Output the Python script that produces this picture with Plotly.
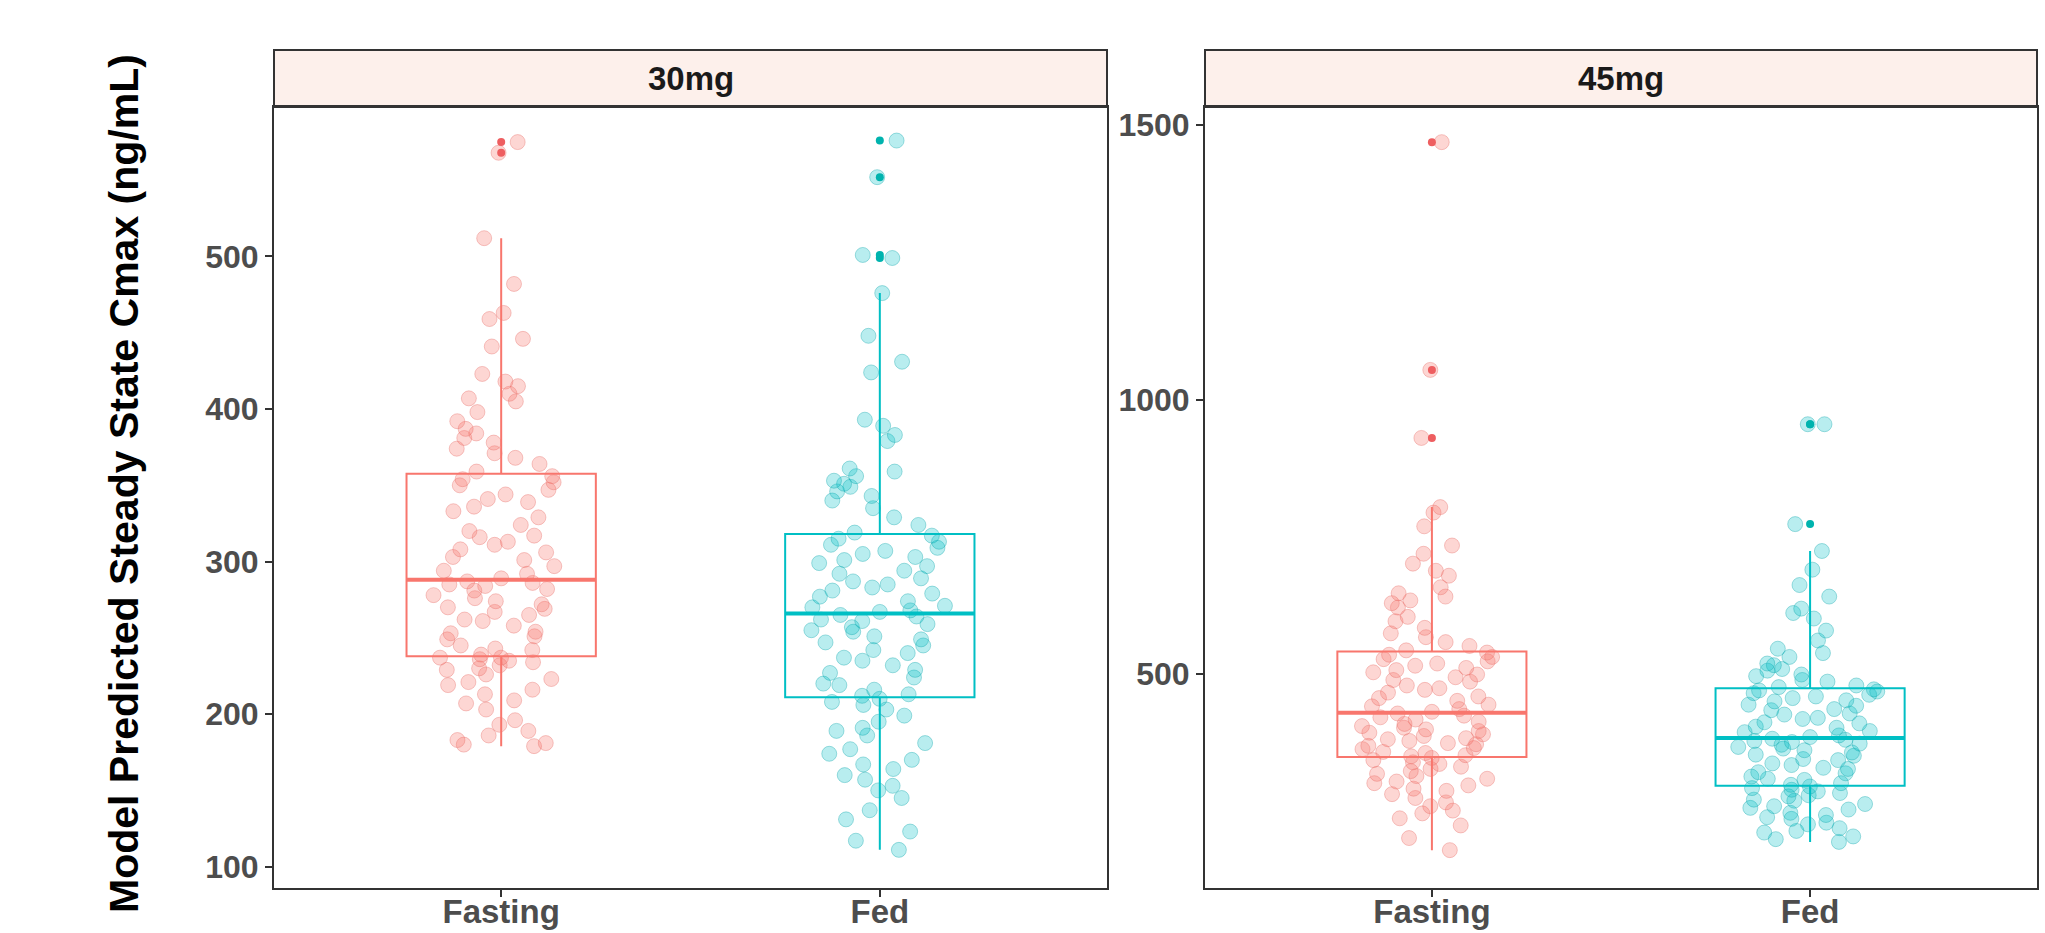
import numpy as np
import plotly.graph_objects as go

# ---------------- data ----------------
doses = ["30mg", "45mg"]
conditions = ["Fasting", "Fed"]

cmax_30_fasting = [179, 180, 181, 183, 186, 189, 193, 196, 203, 207, 209, 213, 216, 219, 221, 223, 226, 229, 230, 232,
                   234, 235, 236, 237, 237, 239, 242, 243, 245, 249, 251, 253, 254, 258, 261, 262, 265, 267, 269, 270,
                   272, 274, 276, 278, 281, 282, 284, 285, 286, 287, 289, 292, 294, 297, 301, 303, 306, 308, 311, 313,
                   316, 317, 320, 324, 329, 333, 336, 339, 341, 344, 347, 350, 352, 354, 356, 359, 364, 368, 371, 374,
                   378, 381, 384, 387, 392, 398, 405, 407, 410, 415, 418, 423, 441, 446, 459, 463, 482, 512, 568, 575]

cmax_30_fed = [111, 117, 123, 131, 137, 145, 150, 153, 157, 160, 164, 167, 170, 174, 177, 181, 186, 189, 191, 195,
               199, 203, 206, 208, 210, 212, 213, 216, 219, 220, 224, 227, 229, 232, 235, 237, 240, 242, 245, 247,
               249, 251, 254, 255, 257, 259, 261, 262, 264, 265, 267, 268, 270, 271, 274, 277, 279, 281, 283, 285,
               287, 289, 292, 294, 297, 299, 301, 303, 305, 307, 309, 311, 313, 315, 317, 319, 324, 329, 335, 340,
               343, 346, 349, 351, 353, 356, 359, 361, 379, 383, 389, 393, 424, 431, 448, 476, 499, 501, 552, 576]

cmax_45_fasting = [179, 201, 224, 237, 246, 251, 259, 266, 274, 281, 287, 291, 297, 301, 304, 309, 314, 318, 323, 327,
                   331, 336, 339, 343, 347, 350, 352, 356, 358, 363, 365, 369, 372, 374, 378, 381, 383, 387, 390, 393,
                   396, 399, 402, 405, 409, 413, 417, 421, 424, 428, 431, 436, 441, 444, 451, 456, 459, 466, 471, 474,
                   479, 486, 489, 494, 499, 503, 507, 511, 515, 519, 523, 527, 531, 535, 539, 543, 551, 558, 567, 574,
                   584, 596, 604, 621, 629, 634, 641, 647, 658, 679, 688, 701, 719, 734, 769, 794, 804, 930, 1054, 1469]

cmax_45_fed = [194, 199, 204, 211, 214, 219, 226, 229, 236, 239, 243, 247, 253, 256, 259, 263, 269, 271, 277, 279,
               283, 286, 289, 292, 295, 298, 301, 307, 309, 313, 319, 321, 327, 329, 334, 337, 343, 345, 351, 353,
               357, 361, 364, 367, 371, 373, 376, 378, 380, 382, 385, 388, 394, 396, 402, 404, 410, 412, 418, 420,
               426, 428, 434, 436, 442, 444, 450, 452, 456, 459, 462, 465, 468, 470, 472, 476, 479, 486, 489, 496,
               499, 506, 509, 516, 519, 531, 538, 546, 561, 579, 601, 611, 619, 641, 662, 690, 724, 773, 955, 955]

y_ticks_30 = [100, 200, 300, 400, 500]
y_ticks_45 = [500, 1000, 1500]
y_title = "Model Predicted Steady State Cmax (ng/mL)"

# ---------------- styling ----------------
FONT = "Liberation Sans"
line_cols = {"Fasting": "#F8766D", "Fed": "#00BFC4"}
out_cols = {"Fasting": "#EE5E60", "Fed": "#00B3AE"}
pt_fill = {"Fasting": "rgba(248,118,109,0.30)", "Fed": "rgba(0,191,196,0.28)"}
pt_edge = {"Fasting": "rgba(230,100,95,0.35)", "Fed": "rgba(0,160,165,0.35)"}

W, H = 2045, 933
x_domains = [[274 / W, 1107 / W], [1205 / W, 2037 / W]]
y_domain = [1 - 888 / H, 1 - 107 / H]
strip_top = 1 - 50 / H

panels = [
    {"dose": doses[0], "data": {"Fasting": cmax_30_fasting, "Fed": cmax_30_fed},
     "ticks": y_ticks_30, "range": [86, 598], "xa": "x", "ya": "y"},
    {"dose": doses[1], "data": {"Fasting": cmax_45_fasting, "Fed": cmax_45_fed},
     "ticks": y_ticks_45, "range": [110, 1533], "xa": "x2", "ya": "y2"},
]

fig = go.Figure()
shapes = []
annotations = []

for p in panels:
    for i, cond in enumerate(conditions):
        vals = p["data"][cond]
        xs = [cond] * len(vals)
        # jittered raw points
        fig.add_trace(go.Box(
            x=xs, y=vals, xaxis=p["xa"], yaxis=p["ya"],
            boxpoints="all", jitter=0.8, pointpos=0, width=0.5,
            line=dict(color="rgba(0,0,0,0)", width=0),
            fillcolor="rgba(0,0,0,0)",
            marker=dict(size=15, color=pt_fill[cond],
                        line=dict(color=pt_edge[cond], width=1)),
            showlegend=False, hoverinfo="y",
        ))
        # box with outliers
        fig.add_trace(go.Box(
            x=xs, y=vals, xaxis=p["xa"], yaxis=p["ya"],
            boxpoints="outliers", jitter=0, pointpos=0, width=0.5,
            whiskerwidth=0,
            line=dict(color=line_cols[cond], width=2),
            fillcolor="rgba(0,0,0,0)",
            marker=dict(size=8, color=out_cols[cond], line=dict(width=0)),
            showlegend=False, hoverinfo="y",
        ))
        # thicker median line (as in ggplot)
        med = float(np.median(vals))
        shapes.append(dict(type="line", xref=p["xa"], yref=p["ya"],
                           x0=i - 0.25, x1=i + 0.25, y0=med, y1=med,
                           line=dict(color=line_cols[cond], width=4), layer="above"))

for k, p in enumerate(panels):
    d = x_domains[k]
    shapes.append(dict(type="rect", xref="paper", yref="paper",
                       x0=d[0], x1=d[1], y0=y_domain[1], y1=strip_top,
                       fillcolor="#FDF0EB", line=dict(color="#333333", width=2), layer="below"))
    annotations.append(dict(text=p["dose"], xref="paper", yref="paper",
                            x=(d[0] + d[1]) / 2, y=(y_domain[1] + strip_top) / 2,
                            showarrow=False, xanchor="center", yanchor="middle",
                            font=dict(family=FONT, size=33, color="#1A1A1A", weight="bold")))

annotations.append(dict(text=y_title, xref="paper", yref="paper",
                        x=124 / W, y=1 - 484 / H, textangle=-90,
                        showarrow=False, xanchor="center", yanchor="middle",
                        font=dict(family=FONT, size=41, color="#000000", weight="bold")))

axis_common = dict(showline=True, mirror=True, linecolor="#333333", linewidth=2,
                   ticks="outside", ticklen=7, tickwidth=2, tickcolor="#333333",
                   showgrid=False, zeroline=False, automargin=False)

tickfont_y = dict(family=FONT, size=32, color="#4D4D4D", weight="bold")
tickfont_x = dict(family=FONT, size=33, color="#4D4D4D", weight="bold")

layout = dict(
    width=W, height=H,
    margin=dict(l=0, r=0, t=0, b=0),
    paper_bgcolor="white", plot_bgcolor="white",
    boxmode="overlay",
    shapes=shapes, annotations=annotations,
    font=dict(family=FONT),
)
for k, p in enumerate(panels):
    xname = "xaxis" if k == 0 else "xaxis2"
    yname = "yaxis" if k == 0 else "yaxis2"
    layout[xname] = dict(domain=x_domains[k], anchor=p["ya"], type="category",
                         categoryorder="array", categoryarray=conditions,
                         range=[-0.6, 1.6], ticklabelstandoff=-14,
                         tickfont=tickfont_x, **axis_common)
    layout[yname] = dict(domain=y_domain, anchor=p["xa"], range=p["range"],
                         tickmode="array", tickvals=p["ticks"],
                         ticktext=[str(t) for t in p["ticks"]],
                         tickfont=tickfont_y, **axis_common)

fig.update_layout(**layout)
fig.write_html("out.html", config={"displayModeBar": False},
               post_script="document.body.style.margin='0px';document.body.style.overflow='hidden';")
